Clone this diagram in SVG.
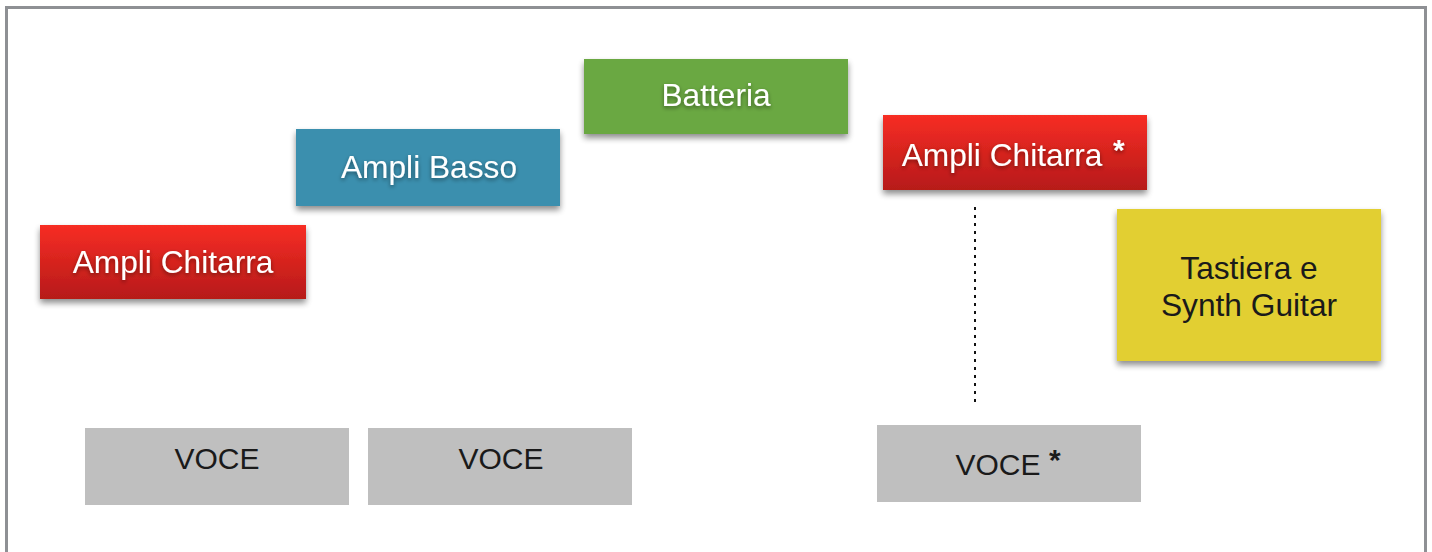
<svg xmlns="http://www.w3.org/2000/svg" width="1432" height="552" viewBox="0 0 1432 552">
<style>
.lbl{font-family:"Liberation Sans",Arial,Helvetica,sans-serif;font-size:31.7px;text-anchor:middle}
.v{font-size:30px}
.w{fill:#ffffff;filter:url(#tsh)}
.k{fill:#1a1a1a}
.star{font-family:"Liberation Sans",Arial,sans-serif;font-weight:bold;font-size:30px}
.box{filter:url(#bsh)}
</style>
<defs>
<linearGradient id="red" x1="0" y1="0" x2="0" y2="1">
<stop offset="0" stop-color="#f72d24"/>
<stop offset="1" stop-color="#b61a19"/>
</linearGradient>
<filter id="bsh" x="-10%" y="-20%" width="120%" height="150%">
<feGaussianBlur in="SourceAlpha" stdDeviation="3"/>
<feOffset dx="0" dy="4" result="b"/>
<feComponentTransfer><feFuncA type="linear" slope="0.45"/></feComponentTransfer>
<feMerge><feMergeNode/><feMergeNode in="SourceGraphic"/></feMerge>
</filter>
<filter id="tsh" x="-10%" y="-30%" width="120%" height="160%">
<feGaussianBlur in="SourceAlpha" stdDeviation="2"/>
<feOffset dx="0" dy="2"/>
<feComponentTransfer><feFuncA type="linear" slope="0.45"/></feComponentTransfer>
<feMerge><feMergeNode/><feMergeNode in="SourceGraphic"/></feMerge>
</filter>
</defs>
<rect x="0" y="0" width="1432" height="552" fill="#ffffff"/>
<path d="M6.5 560 V7.5 H1425.5 V560" fill="none" stroke="#8e9094" stroke-width="3"/>

<g id="connectors">
<line x1="975" y1="207" x2="975" y2="402" stroke="#111" stroke-width="2" stroke-dasharray="3,5"/>
</g>

<g id="batteria">
<rect class="box" x="584" y="59" width="264" height="75" fill="#6aa843"/>
<text class="lbl w" x="716" y="106">Batteria</text>
</g>
<g id="ampli-basso">
<rect class="box" x="296" y="129" width="264" height="77" fill="#3a8fae"/>
<text class="lbl w" x="429" y="178">Ampli Basso</text>
</g>
<g id="ampli-chitarra-1">
<rect class="box" x="40" y="225" width="266" height="74" fill="url(#red)"/>
<text class="lbl w" x="173" y="273">Ampli Chitarra</text>
</g>
<g id="ampli-chitarra-2">
<rect class="box" x="883" y="115" width="264" height="75" fill="url(#red)"/>
<text class="lbl w" x="1002" y="166">Ampli Chitarra</text>
<text class="star w" x="1113" y="160">*</text>
</g>
<g id="tastiera">
<rect class="box" x="1117" y="209" width="264" height="152" fill="#e2cf31"/>
<text class="lbl k" x="1249" y="279">Tastiera e</text>
<text class="lbl k" x="1249" y="316">Synth Guitar</text>
</g>
<g id="voce-1">
<rect x="85" y="428" width="264" height="77" fill="#bfbfbf"/>
<text class="lbl v k" x="217" y="469">VOCE</text>
</g>
<g id="voce-2">
<rect x="368" y="428" width="264" height="77" fill="#bfbfbf"/>
<text class="lbl v k" x="501" y="469">VOCE</text>
</g>
<g id="voce-3">
<rect x="877" y="425" width="264" height="77" fill="#bfbfbf"/>
<text class="lbl v k" x="998" y="475">VOCE</text>
<text class="star k" x="1049" y="470">*</text>
</g>
</svg>
